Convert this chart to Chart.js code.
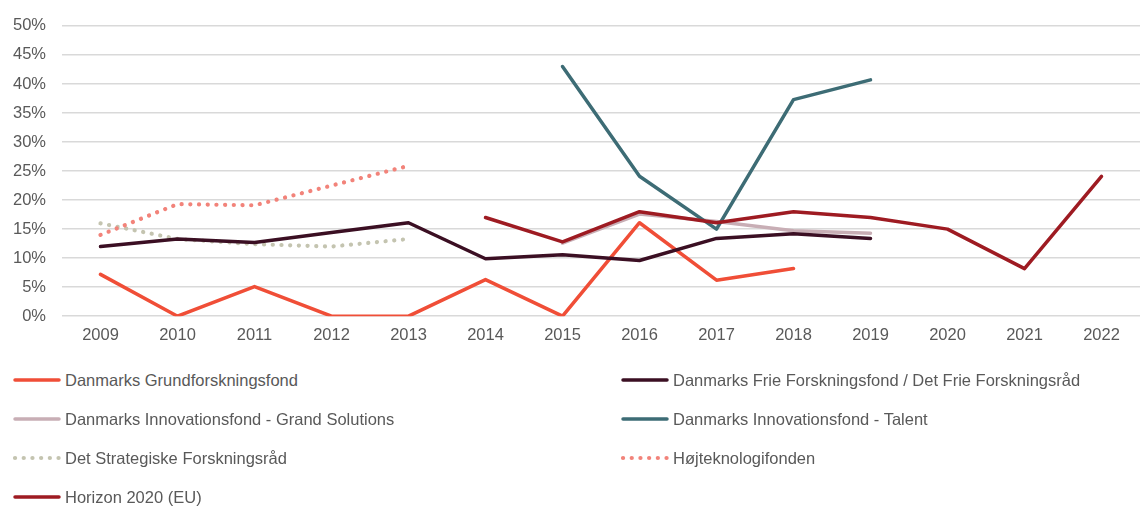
<!DOCTYPE html>
<html>
<head>
<meta charset="utf-8">
<script src="https://cdn.jsdelivr.net/npm/chart.js@4"></script>
<style>
  body { margin: 0; background: #fff; font-family: "Liberation Sans", Arial, sans-serif; }
  #wrap { position: absolute; left: 0; top: 0; width: 1140px; height: 346px; }
  #legend { position: absolute; left: 12px; top: 366px; width: 1128px;
    display: grid; grid-template-columns: 608px 520px; row-gap: 11px; }
  .item { display: flex; align-items: center; height: 28px; font-size: 16.5px; color: #595959; }
  .item canvas { margin-right: 3px; }
</style>
</head>
<body>
<div id="wrap"><canvas id="chart"></canvas></div>
<div id="legend"></div>
<script>
// years and shares of successful applications (%)
const years = ["2009","2010","2011","2012","2013","2014","2015","2016","2017","2018","2019","2020","2021","2022"];

const grundforskning = [7.2, 0, 5.1, 0, 0, 6.3, 0, 16.1, 6.2, 8.2, null, null, null, null];
const frie = [12, 13.3, 12.7, 14.4, 16.1, 9.9, 10.6, 9.6, 13.4, 14.2, 13.4, null, null, null];
const grandSolutions = [null, null, null, null, null, null, 12.6, 17.6, 16.3, 14.7, 14.3, null, null, null];
const talent = [null, null, null, null, null, null, 43, 24.1, 15, 37.3, 40.7, null, null, null];
const strategiske = [16, 13.3, 12.4, 12, 13.3, null, null, null, null, null, null, null, null, null];
const hoejteknologi = [14, 19.3, 19.1, 22.5, 25.9, null, null, null, null, null, null, null, null, null];
const horizon = [null, null, null, null, null, 17, 12.8, 18, 16.1, 18, 17, 15, 8.2, 24.1];

const dots = [0.1, 8.6];

const datasets = [
  { label: "Danmarks Grundforskningsfond", data: grundforskning, borderColor: "#F04E37" },
  { label: "Danmarks Frie Forskningsfond / Det Frie Forskningsråd", data: frie, borderColor: "#3B0F23" },
  { label: "Danmarks Innovationsfond - Grand Solutions", data: grandSolutions, borderColor: "#C8AEB5" },
  { label: "Danmarks Innovationsfond - Talent", data: talent, borderColor: "#3D6C75" },
  { label: "Det Strategiske Forskningsråd", data: strategiske, borderColor: "#C4C4B0", borderDash: dots },
  { label: "Højteknologifonden", data: hoejteknologi, borderColor: "#F2837A", borderDash: dots },
  { label: "Horizon 2020 (EU)", data: horizon, borderColor: "#9E1B22" }
];

// draw order: grand solutions under horizon
const order = [3, 1, 6, 2, 5, 4, 0];
datasets.forEach((d, i) => {
  d.borderWidth = d.borderDash ? 4.2 : 3.5;
  d.borderCapStyle = "round";
  d.borderJoinStyle = "round";
  d.pointRadius = 0;
  d.fill = false;
  d.spanGaps = false;
  d.order = order[i];
});

const tickFont = { family: "Liberation Sans", size: 16.5 };

new Chart("chart", {
  type: "line",
  data: { labels: years, datasets: datasets },
  options: {
    responsive: true,
    maintainAspectRatio: false,
    animation: false,
    layout: { padding: { top: 13, right: 0, left: 0, bottom: 0 } },
    plugins: { legend: { display: false }, tooltip: { enabled: false } },
    scales: {
      x: {
        offset: true,
        grid: { display: false },
        border: { display: false },
        ticks: { color: "#595959", font: tickFont, padding: 1, maxRotation: 0 }
      },
      y: {
        min: 0, max: 50,
        grid: { color: "#D9D9D9", lineWidth: 1.5, drawTicks: false },
        border: { display: false },
        afterFit: s => { s.width = 62; },
        ticks: { stepSize: 5, color: "#595959", font: tickFont, padding: 16,
          callback: v => v + "%" }
      }
    }
  }
});

// legend in two columns
const legend = document.getElementById("legend");
datasets.forEach(d => {
  const item = document.createElement("div");
  item.className = "item";
  const c = document.createElement("canvas");
  c.width = 50; c.height = 10;
  const ctx = c.getContext("2d");
  ctx.strokeStyle = d.borderColor;
  ctx.lineWidth = d.borderDash ? 4.2 : 3.5;
  ctx.lineCap = "round";
  if (d.borderDash) ctx.setLineDash(d.borderDash);
  ctx.beginPath(); ctx.moveTo(3, 5); ctx.lineTo(47, 5); ctx.stroke();
  item.appendChild(c);
  item.appendChild(document.createTextNode(d.label));
  legend.appendChild(item);
});
</script>
</body>
</html>
